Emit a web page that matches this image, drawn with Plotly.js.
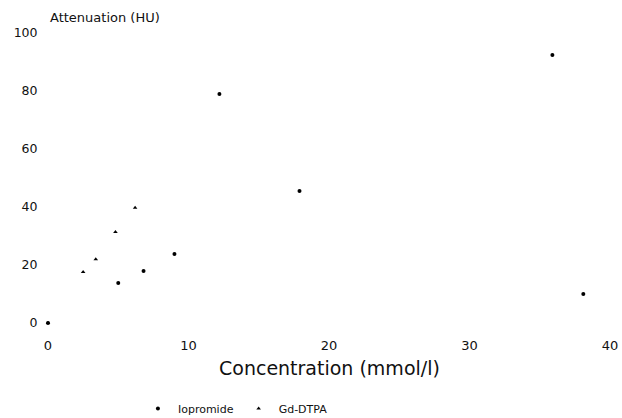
<!DOCTYPE html>
<html>
<head>
<meta charset="utf-8">
<script src="https://cdn.plot.ly/plotly-3.0.1.min.js"></script>
<style>html,body{margin:0;padding:0;background:#fff;}#chart{width:622px;height:418px;}</style>
</head>
<body>
<div id="chart"></div>
<script>
// Data
const iopromideConc = [0, 5.0, 6.8, 9.0, 12.2, 17.9, 35.9, 38.1];
const iopromideHU   = [0, 13.8, 17.9, 23.8, 79, 45.5, 92.4, 10];
const gdConc = [0, 2.5, 3.4, 4.8, 6.2];
const gdHU   = [0, 17.6, 22, 31.4, 39.7];
const xTicks = [0, 10, 20, 30, 40];
const yTicks = [0, 20, 40, 60, 80, 100];

const FONT = "DejaVu Sans, sans-serif";

const traces = [
  {x: iopromideConc, y: iopromideHU, name: 'Iopromide', type: 'scatter', mode: 'markers',
   marker: {symbol: 'circle', size: 4, color: '#000'}, cliponaxis: false},
  {x: gdConc, y: gdHU, name: 'Gd-DTPA', type: 'scatter', mode: 'markers',
   marker: {symbol: 'triangle-up', size: 4, color: '#000'}, cliponaxis: false}
];

const layout = {
  width: 622, height: 418,
  margin: {l: 48, r: 12, t: 33, b: 95, autoexpand: false},
  paper_bgcolor: '#fff', plot_bgcolor: '#fff',
  font: {family: FONT, color: '#111', size: 11},
  showlegend: true,
  legend: {orientation: 'h', x: 0.16, xanchor: 'left', y: -0.295, yanchor: 'middle',
           font: {family: FONT, size: 11, color: '#111'}, itemwidth: 30, tracegroupgap: 0,
           bgcolor: 'rgba(0,0,0,0)', borderwidth: 0},
  xaxis: {range: [0, 40], tickvals: xTicks, ticktext: xTicks.map(String),
          showgrid: false, zeroline: false, showline: false,
          ticks: 'outside', ticklen: 10, tickcolor: 'rgba(0,0,0,0)',
          tickfont: {family: FONT, size: 13, color: '#111'}},
  yaxis: {range: [0, 100], tickvals: yTicks, ticktext: yTicks.map(String),
          showgrid: false, zeroline: false, showline: false,
          ticks: 'outside', ticklen: 7, tickcolor: 'rgba(0,0,0,0)',
          tickfont: {family: FONT, size: 12.5, color: '#111'}},
  annotations: [
    {text: 'Attenuation (HU)', xref: 'paper', yref: 'paper', x: 0, y: 1.055,
     xanchor: 'left', yanchor: 'middle', showarrow: false,
     font: {family: FONT, size: 13, color: '#111'}},
    {text: 'Concentration (mmol/l)', xref: 'paper', yref: 'paper', x: 0.5, y: -0.155,
     xanchor: 'center', yanchor: 'middle', showarrow: false,
     font: {family: FONT, size: 19, color: '#111'}}
  ]
};

Plotly.newPlot('chart', traces, layout, {displayModeBar: false, staticPlot: true});
</script>
</body>
</html>
